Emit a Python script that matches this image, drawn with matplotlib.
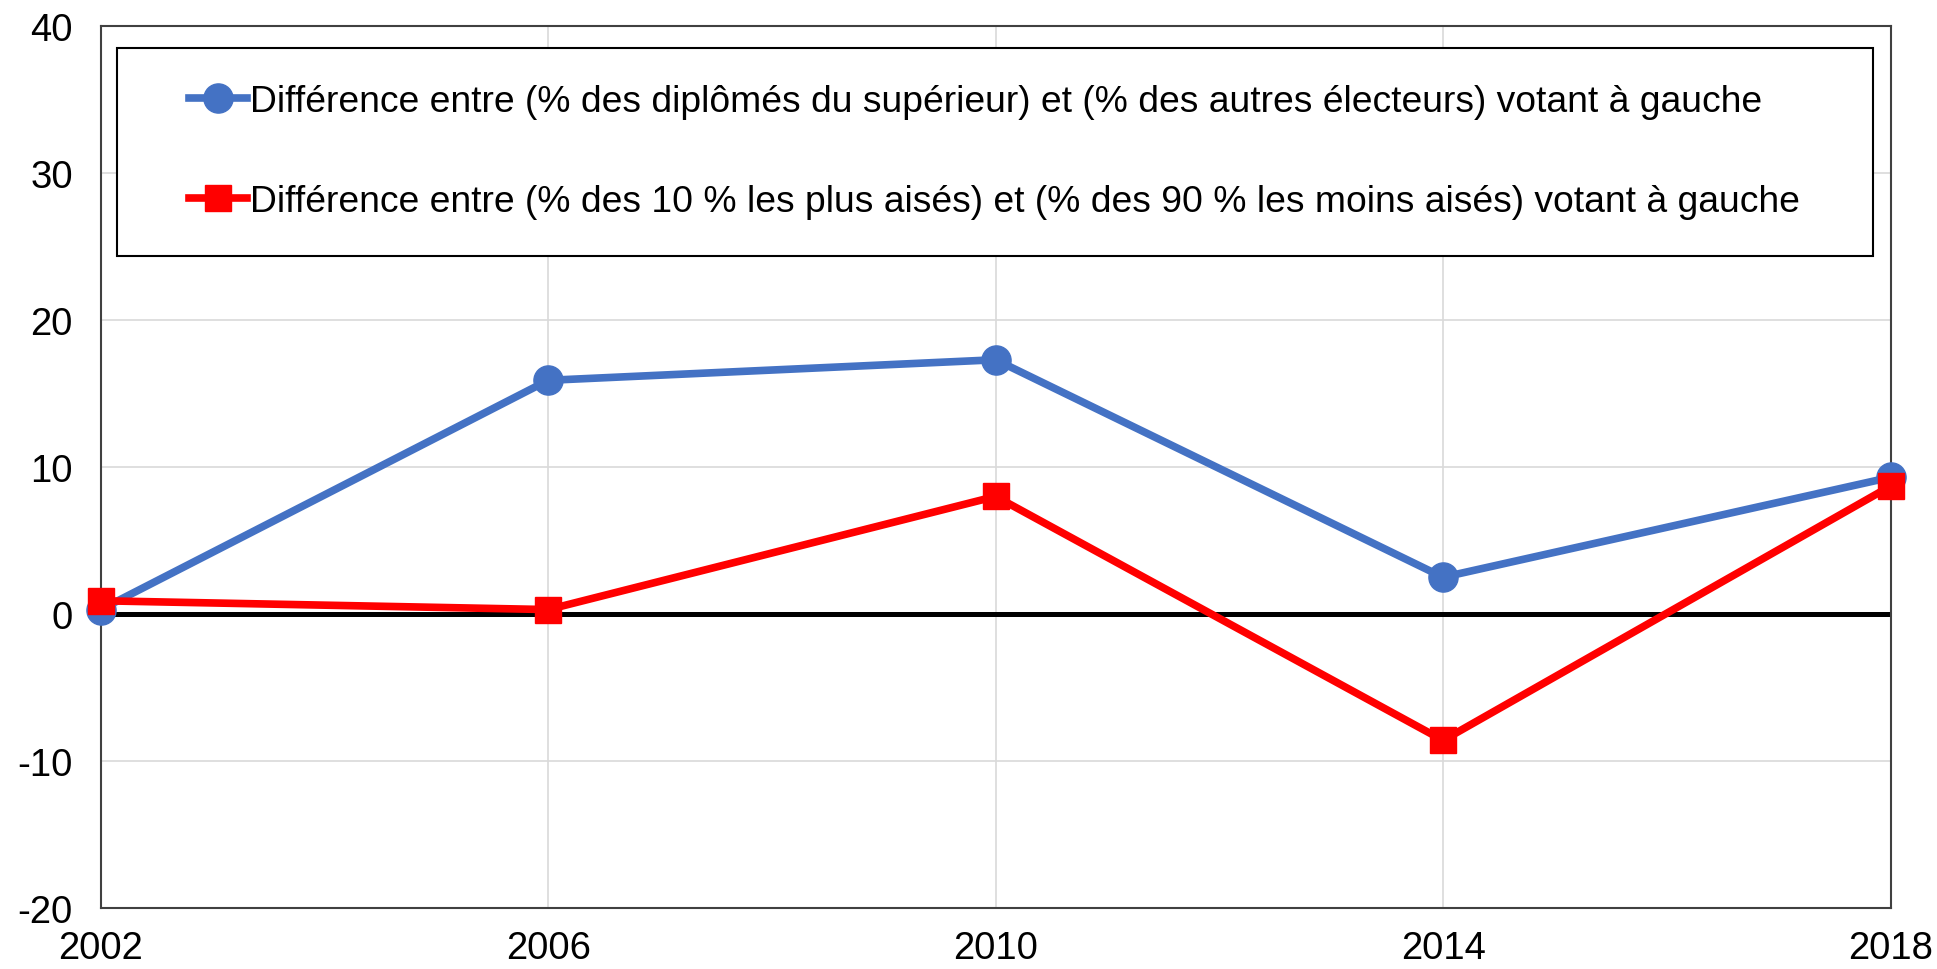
import matplotlib
matplotlib.use("Agg")
import matplotlib.pyplot as plt
from matplotlib.patches import Rectangle

plt.rcParams["font.family"] = ["Liberation Sans", "DejaVu Sans"]
plt.rcParams["axes.unicode_minus"] = False

years = [2002, 2006, 2010, 2014, 2018]
diplomes = [0.3, 15.9, 17.3, 2.5, 9.3]
aises = [0.9, 0.3, 8.0, -8.6, 8.7]
label_diplomes = "Différence entre (% des diplômés du supérieur) et (% des autres électeurs) votant à gauche"
label_aises = "Différence entre (% des 10 % les plus aisés) et (% des 90 % les moins aisés) votant à gauche"
y_ticks = [-20, -10, 0, 10, 20, 30, 40]

fig = plt.figure(figsize=(19.37, 9.70), dpi=100)
ax = fig.add_axes([0.052, 0.063, 0.924, 0.909])

ax.plot(years, diplomes, color="#4472C4", lw=5.5, marker="o", ms=21,
        label=label_diplomes, zorder=3, clip_on=False)
ax.plot(years, aises, color="#FF0000", lw=5.5, marker="s", ms=19,
        label=label_aises, zorder=3.2, clip_on=False)
ax.axhline(0, color="black", lw=3.6, zorder=2.5)

ax.set_xlim(2002, 2018)
ax.set_ylim(-20, 40)
ax.set_xticks(years)
ax.set_yticks(y_ticks)
ax.grid(True, color="#d9d9d9", lw=1.2, zorder=0)
ax.set_axisbelow(True)
ax.tick_params(axis="both", length=0, labelsize=27.5)
ax.tick_params(axis="y", pad=20)
ax.tick_params(axis="x", pad=16)
for s in ax.spines.values():
    s.set_color("#404040")
    s.set_linewidth(1.5)

# legend box drawn by hand, Excel-style
ax.add_patch(Rectangle((0.009, 0.739), 0.981, 0.236, transform=ax.transAxes,
                       facecolor="white", edgecolor="black", lw=1.5, zorder=4))
leg = ax.legend(loc="center left", bbox_to_anchor=(0.039, 0.858), frameon=False,
                fontsize=26.8, borderpad=0, handlelength=1.55, handletextpad=0.08,
                labelspacing=1.75)
leg.set_zorder(5)

fig.savefig("out.png", dpi=100)
